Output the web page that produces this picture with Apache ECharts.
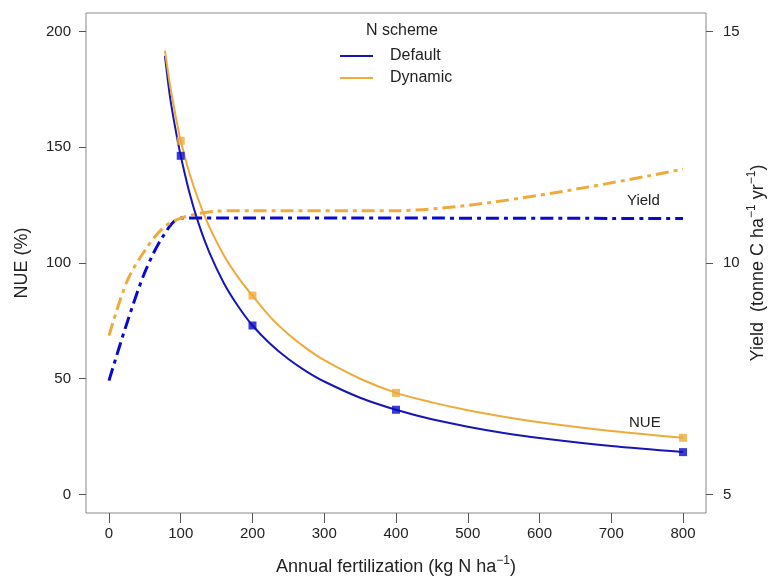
<!DOCTYPE html>
<html>
<head>
<meta charset="utf-8">
<script src="https://cdn.jsdelivr.net/npm/echarts@6/dist/echarts.min.js"></script>
<style>html,body{margin:0;padding:0;background:#fff}#c{width:774px;height:578px}</style>
</head>
<body>
<div id="c"></div>
<script>
// ---- data ----
const xTicks = [0, 100, 200, 300, 400, 500, 600, 700, 800];
const nueTicks = [0, 50, 100, 150, 200];
const yieldTicks = [5, 10, 15];

// NUE curves (left axis, %)
const nueX = [78, 85, 92, 100, 112, 125, 140, 160, 180, 200, 225, 250, 275, 300, 350, 400, 450, 500, 550, 600, 700, 800];
const nueDefault = [189.5, 172, 159, 146.3, 130.6, 117, 104.5, 91.4, 81.3, 73, 65, 58.5, 53.2, 48.8, 41.8, 36.6, 32.5, 29.3, 26.6, 24.4, 20.9, 18.3];
const nueDynamic = [191.7, 177, 165, 152.8, 139, 127, 115.5, 103.4, 93.8, 85.9, 76.6, 69.2, 63.1, 58, 50, 43.9, 39.8, 36.4, 33.6, 31.2, 27.4, 24.5];
// NUE markers
const markX = [100, 200, 400, 800];
const markDefault = [146.3, 73, 36.6, 18.3];
const markDynamic = [152.8, 85.9, 43.9, 24.5];

// Yield curves (right axis, tonne C ha-1 yr-1)
const yieldX = [0, 25, 50, 75, 100, 150, 200, 400, 800];
const yieldDefault = [7.46, 8.7, 9.8, 10.57, 10.97, 10.97, 10.97, 10.97, 10.96];
const yieldDynamic = [8.43, 9.6, 10.27, 10.75, 10.97, 11.12, 11.13, 11.13, 12.03];

const BLUE = '#1616b4';
const BLUE2 = '#0a0acc';
const ORANGE = '#eeaa3a';
const FONT = 'Liberation Sans, Arial, sans-serif';

function zip(xs, ys) { return xs.map((x, i) => [x, ys[i]]); }

const chart = echarts.init(document.getElementById('c'));
const supStyle = { fontSize: 12, fontFamily: FONT, color: '#222', padding: [0, 0, 12, 0] };

chart.setOption({
  animation: false,
  textStyle: { fontFamily: FONT },
  title: {
    text: 'N scheme', left: 397, top: 18, textAlign: 'center',
    textStyle: { fontSize: 16, fontWeight: 'normal', color: '#222', fontFamily: FONT }
  },
  legend: {
    data: ['Default', 'Dynamic'], orient: 'vertical', left: 340, top: 48, padding: 0,
    icon: 'rect', itemWidth: 33, itemHeight: 2, itemGap: 6, selectedMode: false,
    textStyle: { fontSize: 16, color: '#222', fontFamily: FONT, padding: [0, 0, 0, 12] }
  },
  grid: { left: 86, right: 68, top: 13, bottom: 65, show: true, borderColor: '#8a8a8a', borderWidth: 1,
    containLabel: false, outerBoundsMode: 'none' },
  xAxis: {
    type: 'value', min: -32, max: 832,
    axisLine: { show: false, onZero: false }, splitLine: { show: false },
    axisTick: { show: true, customValues: xTicks, length: 10, lineStyle: { color: '#555' } },
    axisLabel: { customValues: xTicks, margin: 13, fontSize: 15, color: '#222', fontFamily: FONT },
    name: 'Annual fertilization (kg N ha{sup|\u22121})',
    nameLocation: 'middle', nameGap: 42,
    nameTextStyle: { fontSize: 18, color: '#222', fontFamily: FONT, rich: { sup: supStyle } }
  },
  yAxis: [{
    type: 'value', min: -8, max: 208, position: 'left',
    axisLine: { show: false, onZero: false }, splitLine: { show: false },
    axisTick: { show: true, customValues: nueTicks, length: 7, lineStyle: { color: '#555' } },
    axisLabel: { customValues: nueTicks, margin: 15, fontSize: 15, color: '#222', fontFamily: FONT },
    name: 'NUE (%)', nameLocation: 'middle', nameGap: 55,
    nameTextStyle: { fontSize: 18, color: '#222', fontFamily: FONT }
  }, {
    type: 'value', min: 4.6, max: 15.4, position: 'right',
    axisLine: { show: false, onZero: false }, splitLine: { show: false },
    axisTick: { show: true, customValues: yieldTicks, length: 7, lineStyle: { color: '#555' } },
    axisLabel: { customValues: yieldTicks, margin: 17, fontSize: 15, color: '#222', fontFamily: FONT },
    name: 'Yield  (tonne C ha{sup|\u22121} yr{sup|\u22121})', nameLocation: 'middle', nameGap: 40,
    nameMoveOverlap: false,
    nameTextStyle: { fontSize: 18, color: '#222', fontFamily: FONT, rich: { sup: supStyle } }
  }],
  graphic: [
    { type: 'text', left: 627, top: 193, style: { text: 'Yield', fontSize: 15, fill: '#222', fontFamily: FONT } },
    { type: 'text', left: 629, top: 415, style: { text: 'NUE', fontSize: 15, fill: '#222', fontFamily: FONT } }
  ],
  series: [
    { name: 'Default yield', type: 'line', yAxisIndex: 1, data: zip(yieldX, yieldDefault), smooth: 0.3,
      showSymbol: false, lineStyle: { color: BLUE2, width: 3, type: [13, 5, 4, 5] }, z: 2 },
    { name: 'Dynamic yield', type: 'line', yAxisIndex: 1, data: zip(yieldX, yieldDynamic), smooth: 0.3,
      showSymbol: false, lineStyle: { color: ORANGE, width: 3, type: [13, 5, 4, 5] }, z: 3 },
    { name: 'Default', type: 'line', data: zip(nueX, nueDefault), smooth: 0.3,
      showSymbol: false, itemStyle: { color: BLUE }, lineStyle: { color: BLUE, width: 2 }, z: 4 },
    { name: 'Dynamic', type: 'line', data: zip(nueX, nueDynamic), smooth: 0.3,
      showSymbol: false, itemStyle: { color: ORANGE }, lineStyle: { color: ORANGE, width: 2 }, z: 5 },
    { name: 'Default marks', type: 'scatter', data: zip(markX, markDefault), symbol: 'rect', symbolSize: 8,
      itemStyle: { color: BLUE2 }, z: 6 },
    { name: 'Dynamic marks', type: 'scatter', data: zip(markX, markDynamic), symbol: 'rect', symbolSize: 8,
      itemStyle: { color: ORANGE }, z: 6 }
  ]
});
</script>
</body>
</html>
